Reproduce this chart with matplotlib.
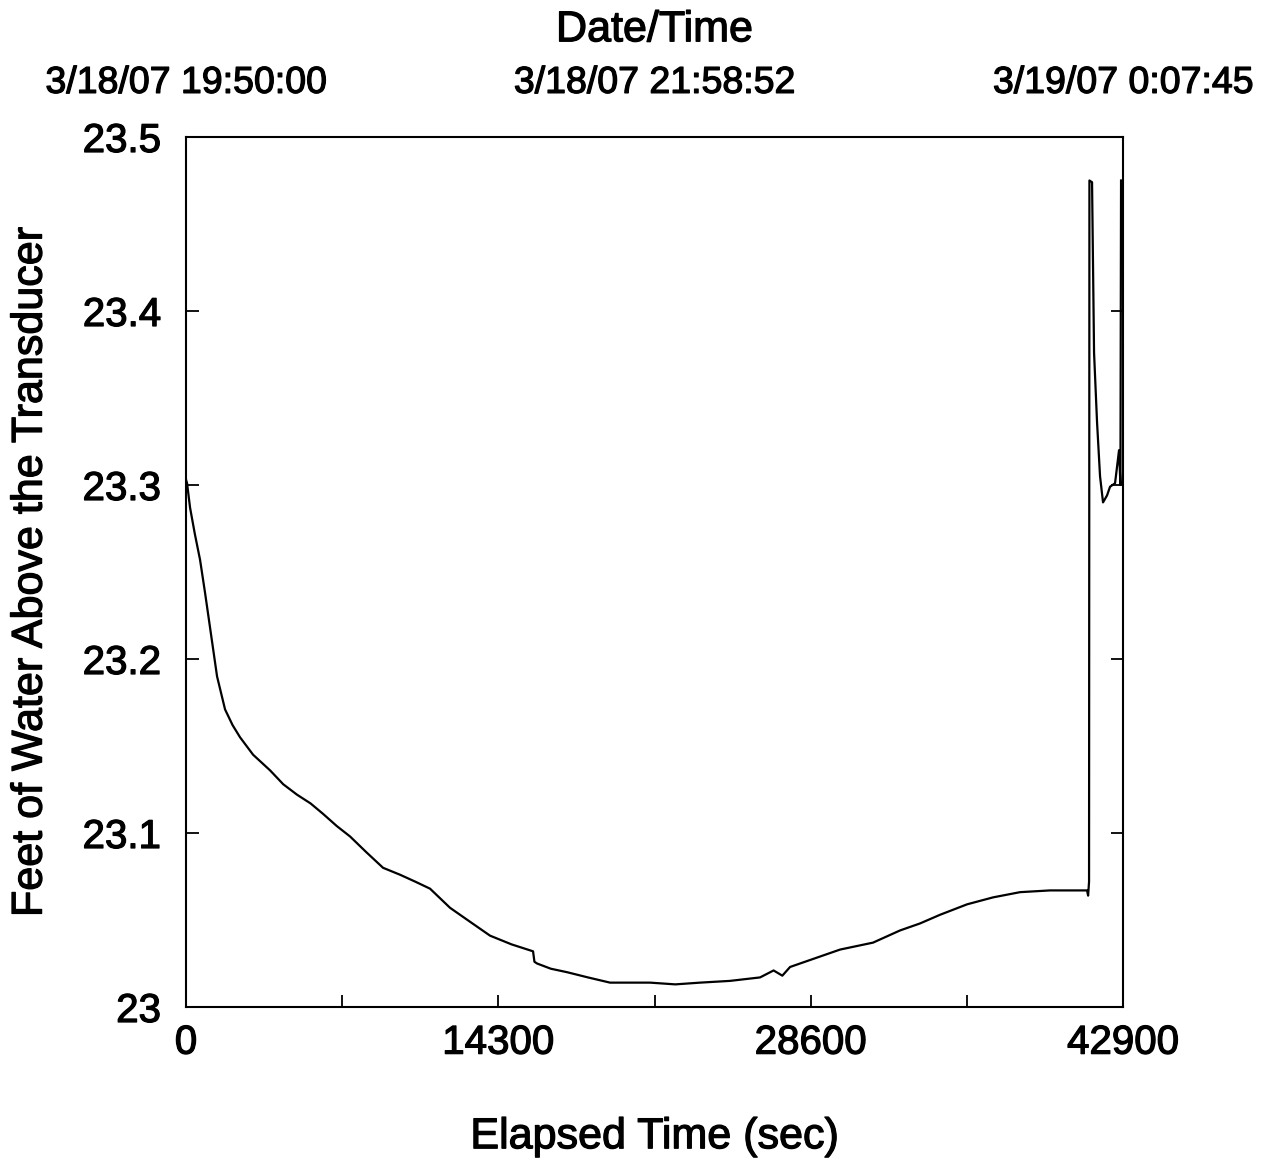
import matplotlib.pyplot as plt
import matplotlib.patheffects as pe
from matplotlib.ticker import MultipleLocator, FixedLocator

# Transducer readings (elapsed seconds, feet of water)
elapsed = [0, 46, 183, 400, 641, 870, 1099, 1419, 1786, 2130, 2472, 3068, 3846,
           4450, 5082, 5700, 6272, 6900, 7509, 8250, 9019, 9800, 10500, 11171,
           12087, 13000, 13918, 14900, 15887, 15950, 16070, 16700, 17444, 18400,
           19412, 20300, 21244, 22400, 23533, 24900, 26280, 26900, 27300, 27654,
           28569, 29943, 31454, 32690, 33600, 34521, 35757, 36948, 38184, 39557,
           40400, 41251, 41300, 41343, 41360, 41480, 41572, 41709, 41846, 41983,
           42166, 42304, 42533, 42716, 42780, 42808]
depth = [23.303, 23.301, 23.287, 23.272, 23.257, 23.238, 23.218, 23.190, 23.171,
         23.162, 23.155, 23.145, 23.136, 23.128, 23.122, 23.117, 23.111, 23.104,
         23.098, 23.089, 23.080, 23.076, 23.072, 23.068, 23.057, 23.049, 23.041,
         23.036, 23.032, 23.026, 23.025, 23.022, 23.020, 23.017, 23.014, 23.014,
         23.014, 23.013, 23.014, 23.015, 23.017, 23.021, 23.018, 23.023, 23.027,
         23.033, 23.037, 23.044, 23.048, 23.053, 23.059, 23.063, 23.066, 23.067,
         23.067, 23.067, 23.064, 23.072, 23.475, 23.474, 23.376, 23.336, 23.305,
         23.290, 23.294, 23.299, 23.301, 23.320, 23.300, 23.475]

bottom_ticks = [0, 14300, 28600, 42900]
y_ticks = [23.0, 23.1, 23.2, 23.3, 23.4, 23.5]
y_labels = ["23", "23.1", "23.2", "23.3", "23.4", "23.5"]
top_ticks = [0, 21450, 42900]
top_labels = ["3/18/07 19:50:00", "3/18/07 21:58:52", "3/19/07 0:07:45"]

plt.rcParams['font.family'] = ['Liberation Sans', 'DejaVu Sans']
heavy = [pe.withStroke(linewidth=0.9, foreground='black')]

fig = plt.figure(figsize=(12.7, 11.58), dpi=100)
ax = fig.add_axes([0.1465, 0.1304, 0.7378, 0.7513])

ax.plot(elapsed, depth, color='black', linewidth=1.6)

ax.set_xlim(0, 42900)
ax.set_ylim(23.0, 23.5)
ax.xaxis.set_major_locator(FixedLocator(bottom_ticks))
ax.xaxis.set_minor_locator(MultipleLocator(7150))
ax.yaxis.set_major_locator(FixedLocator(y_ticks))
ax.set_yticklabels(y_labels)
ax.set_xticklabels([str(t) for t in bottom_ticks])

ax.tick_params(axis='both', which='both', direction='in', length=9, width=1.3,
               top=True, right=True, labelsize=29)
ax.tick_params(axis='x', which='major', pad=12)
ax.tick_params(axis='y', which='major', pad=18)
for s in ax.spines.values():
    s.set_linewidth(1.5)
for lbl in ax.get_xticklabels() + ax.get_yticklabels():
    lbl.set_path_effects(heavy)

ax.set_xlabel("Elapsed Time (sec)", fontsize=31, labelpad=40, path_effects=heavy)
ax.set_ylabel("Feet of Water Above the Transducer", fontsize=31, labelpad=23,
              path_effects=heavy)

top = ax.twiny()
top.set_xlim(ax.get_xlim())
top.xaxis.set_major_locator(FixedLocator(top_ticks))
top.set_xticklabels(top_labels)
top.tick_params(axis='x', which='major', length=0, labelsize=27, pad=26)
top.set_xlabel("Date/Time", fontsize=31, labelpad=17, path_effects=heavy)
for lbl in top.get_xticklabels():
    lbl.set_path_effects(heavy)
for s in top.spines.values():
    s.set_visible(False)

fig.savefig("out.png", dpi=100, facecolor='white')
